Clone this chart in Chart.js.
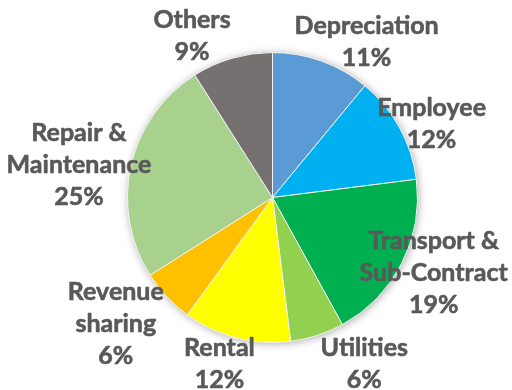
<!DOCTYPE html>
<html>
<head>
<meta charset="utf-8">
<title>Cost breakdown</title>
<script src="https://cdn.jsdelivr.net/npm/chart.js@4/dist/chart.umd.min.js"></script>
<style>
  html, body { margin: 0; padding: 0; background: #fff; }
  #wrap { width: 512px; height: 390px; }
</style>
</head>
<body>
<div id="wrap"><canvas id="costChart" width="512" height="390"></canvas></div>
<script>
// Cost categories, clockwise from 12 o'clock
const categories = [
    ['Depreciation'],
    ['Employee'],
    ['Transport &', 'Sub-Contract'],
    ['Utilities'],
    ['Rental'],
    ['Revenue', 'sharing'],
    ['Repair &', 'Maintenance'],
    ['Others']
];
const shares = [11, 12, 19, 6, 12, 6, 25, 9];

const sliceColors = ['#5B9BD5', '#00B0F0', '#00B050', '#92D050', '#FFFF00', '#FFC000', '#A9D18E', '#767171'];

// label nudge from the outer edge of each slice (best-fit style placement)
const labelNudge = [[45, -19], [32, -4], [32, 10], [47, 29], [-17, 26], [-51, 27], [-52, -1], [-40, -22]];

const labelFont = 'bold 25px Lato, "Open Sans", sans-serif';
const labelColor = '#595959';
const lineGap = 32;

// soft drop shadow behind the whole pie
const pieShadow = {
    id: 'pieShadow',
    beforeDatasetsDraw(chart) {
        const arc = chart.getDatasetMeta(0).data[0];
        if (!arc) return;
        const ctx = chart.ctx;
        ctx.save();
        ctx.shadowColor = 'rgba(0, 0, 0, 0.35)';
        ctx.shadowBlur = 9;
        ctx.shadowOffsetX = 1;
        ctx.shadowOffsetY = 1;
        ctx.fillStyle = '#ffffff';
        ctx.beginPath();
        ctx.arc(arc.x, arc.y, arc.outerRadius, 0, Math.PI * 2);
        ctx.fill();
        ctx.restore();
    }
};

// category name + percentage next to each slice
const sliceLabels = {
    id: 'sliceLabels',
    afterDatasetsDraw(chart) {
        const ctx = chart.ctx;
        const meta = chart.getDatasetMeta(0);
        const values = chart.data.datasets[0].data;
        const total = values.reduce((a, b) => a + b, 0);
        ctx.save();
        ctx.font = labelFont;
        ctx.fillStyle = labelColor;
        ctx.strokeStyle = labelColor;
        ctx.lineWidth = 0.6;
        ctx.lineJoin = 'round';
        ctx.textAlign = 'center';
        ctx.textBaseline = 'middle';
        meta.data.forEach((arc, i) => {
            const mid = (arc.startAngle + arc.endAngle) / 2;
            const ex = arc.x + Math.cos(mid) * arc.outerRadius;
            const ey = arc.y + Math.sin(mid) * arc.outerRadius;
            const lines = categories[i].concat([Math.round(values[i] / total * 100) + '%']);
            const cx = ex + labelNudge[i][0];
            const cy = ey + labelNudge[i][1];
            const top = cy - (lines.length - 1) * lineGap / 2;
            lines.forEach((txt, k) => {
                ctx.fillText(txt, cx, top + k * lineGap);
                ctx.strokeText(txt, cx, top + k * lineGap);
            });
        });
        ctx.restore();
    }
};

new Chart(document.getElementById('costChart'), {
    type: 'pie',
    data: {
        labels: categories.map(c => c.join(' ')),
        datasets: [{
            data: shares,
            backgroundColor: sliceColors,
            borderColor: '#f2f2f2',
            borderWidth: 1
        }]
    },
    options: {
        responsive: false,
        animation: false,
        devicePixelRatio: 1,
        layout: { padding: { left: 127, right: 94, top: 52, bottom: 47 } },
        plugins: {
            legend: { display: false },
            tooltip: { enabled: false }
        }
    },
    plugins: [pieShadow, sliceLabels]
});
</script>
</body>
</html>
